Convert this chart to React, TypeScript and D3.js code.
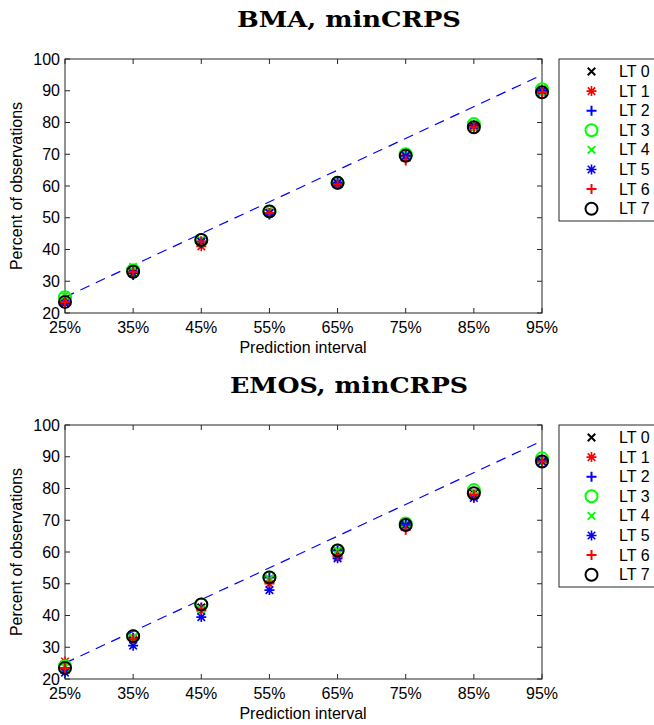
import React from "react";
import * as d3 from "d3";

const intervals = [25, 35, 45, 55, 65, 75, 85, 95];
const intervalLabels = ["25%", "35%", "45%", "55%", "65%", "75%", "85%", "95%"];
const yTicks = [20, 30, 40, 50, 60, 70, 80, 90, 100];
const seriesNames = ["LT 0", "LT 1", "LT 2", "LT 3", "LT 4", "LT 5", "LT 6", "LT 7"];
const seriesColors = ["#000000", "#ff0000", "#0000ff", "#00ff00", "#00ff00", "#0000ff", "#ff0000", "#000000"];
const seriesMarkers = ["x", "star", "plus", "circle", "x", "star", "plus", "circle"];

// BMA, minCRPS: rows = LT 0..7, columns = intervals
const bmaLT0 = [24, 33, 42.5, 51.5, 61, 69.5, 78.5, 90];
const bmaLT1 = [23.5, 32.5, 41, 51.5, 60.5, 69, 78.5, 89.5];
const bmaLT2 = [23, 32, 42, 51, 61, 69.5, 79, 90];
const bmaLT3 = [25, 33.5, 43, 52, 61, 70, 79.5, 90.5];
const bmaLT4 = [25.5, 34.5, 43, 52.5, 61.5, 70, 79.5, 90.5];
const bmaLT5 = [23, 32.5, 42.5, 51.5, 61, 69.5, 79, 90];
const bmaLT6 = [23.5, 33, 42.5, 51.5, 60.5, 68, 78.5, 89.5];
const bmaLT7 = [23.5, 33, 43, 52, 61, 69.5, 78.5, 89.5];

// EMOS, minCRPS
const emosLT0 = [24, 33, 42.5, 51.5, 60, 68.5, 78.5, 89];
const emosLT1 = [25.5, 32.5, 41.5, 50, 58.5, 68, 77.5, 88.5];
const emosLT2 = [23, 33, 42.5, 52, 60.5, 69, 78, 89];
const emosLT3 = [24, 33.5, 43.5, 52, 60.5, 69, 79.5, 89.5];
const emosLT4 = [24, 33, 42, 51.5, 60.5, 69, 79, 89];
const emosLT5 = [22, 30.5, 39.5, 48, 58, 68.5, 77, 88.5];
const emosLT6 = [23.5, 32.5, 42, 50.5, 59, 67, 78, 88.5];
const emosLT7 = [23.5, 33.5, 43.5, 52, 60.5, 68.5, 78.5, 88.5];

const bmaSeries = [bmaLT0, bmaLT1, bmaLT2, bmaLT3, bmaLT4, bmaLT5, bmaLT6, bmaLT7];
const emosSeries = [emosLT0, emosLT1, emosLT2, emosLT3, emosLT4, emosLT5, emosLT6, emosLT7];

const SANS = "'Liberation Sans', Arial, Helvetica, sans-serif";
const SERIF = "'DejaVu Serif', 'Liberation Serif', serif";

function Marker({ type, x, y, color, s }: { type: string; x: number; y: number; color: string; s: number }) {
  const sw = 2;
  if (type === "circle") {
    return <circle cx={x} cy={y} r={s + 1} fill="none" stroke={color} strokeWidth={sw} />;
  }
  if (type === "x") {
    const d = s * 0.75;
    return (
      <path d={`M${x - d},${y - d}L${x + d},${y + d}M${x - d},${y + d}L${x + d},${y - d}`} stroke={color} strokeWidth={sw} />
    );
  }
  if (type === "plus") {
    return <path d={`M${x - s},${y}L${x + s},${y}M${x},${y - s}L${x},${y + s}`} stroke={color} strokeWidth={sw} />;
  }
  const d = s * 0.75;
  return (
    <path
      d={`M${x - s},${y}L${x + s},${y}M${x},${y - s}L${x},${y + s}M${x - d},${y - d}L${x + d},${y + d}M${x - d},${y + d}L${x + d},${y - d}`}
      stroke={color}
      strokeWidth={1.6}
    />
  );
}

function Panel({ title, titleWidth, series, top }: { title: string; titleWidth: number; series: number[][]; top: number }) {
  const left = 65;
  const right = 542;
  const plotTop = top;
  const plotBottom = top + 254;
  const x = d3.scaleLinear().domain([25, 95]).range([left, right]);
  const y = d3.scaleLinear().domain([20, 100]).range([plotBottom, plotTop]);
  const tick = 5;
  const axisColor = "#262626";
  const legendTop = plotTop;
  const legendRowH = 19.6;
  const line = d3
    .line<number>()
    .x((d) => x(d))
    .y((d) => y(d));
  const diag = [intervals[0], intervals[intervals.length - 1]];
  return (
    <g>
      <text
        x={349}
        y={top - 32}
        textAnchor="middle"
        fontFamily={SERIF}
        fontWeight="bold"
        fontSize={22}
        textLength={titleWidth}
        lengthAdjust="spacingAndGlyphs"
      >
        {title}
      </text>
      <rect x={left} y={plotTop} width={right - left} height={plotBottom - plotTop} fill="#fff" stroke={axisColor} strokeWidth={1} />
      {intervals.map((v, i) => (
        <g key={"xt" + i}>
          <line x1={x(v)} x2={x(v)} y1={plotBottom} y2={plotBottom - tick} stroke={axisColor} />
          <line x1={x(v)} x2={x(v)} y1={plotTop} y2={plotTop + tick} stroke={axisColor} />
          <text x={x(v)} y={plotBottom + 20} textAnchor="middle" fontFamily={SANS} fontSize={16}>
            {intervalLabels[i]}
          </text>
        </g>
      ))}
      {yTicks.map((v, i) => (
        <g key={"yt" + i}>
          <line x1={left} x2={left + tick} y1={y(v)} y2={y(v)} stroke={axisColor} />
          <line x1={right} x2={right - tick} y1={y(v)} y2={y(v)} stroke={axisColor} />
          <text x={left - 5} y={y(v) + 5.5} textAnchor="end" fontFamily={SANS} fontSize={16}>
            {v}
          </text>
        </g>
      ))}
      <text x={303} y={plotBottom + 40} textAnchor="middle" fontFamily={SANS} fontSize={16}>
        Prediction interval
      </text>
      <text
        transform={`translate(${22},${(plotTop + plotBottom) / 2}) rotate(-90)`}
        textAnchor="middle"
        fontFamily={SANS}
        fontSize={16}
      >
        Percent of observations
      </text>
      <path d={line(diag) || ""} fill="none" stroke="#0000ff" strokeWidth={1.2} strokeDasharray="10,7" />
      {series.map((vals, si) =>
        vals.map((v, i) => (
          <Marker key={si + "-" + i} type={seriesMarkers[si]} x={x(intervals[i])} y={y(v)} color={seriesColors[si]} s={5} />
        ))
      )}
      <rect x={559} y={legendTop} width={130} height={162} fill="#fff" stroke={axisColor} strokeWidth={1} />
      {seriesNames.map((n, si) => (
        <g key={"lg" + si}>
          <Marker type={seriesMarkers[si]} x={591.5} y={legendTop + 12.5 + si * legendRowH} color={seriesColors[si]} s={5} />
          <text x={619} y={legendTop + 12.5 + si * legendRowH + 5.5} fontFamily={SANS} fontSize={16}>
            {n}
          </text>
        </g>
      ))}
    </g>
  );
}

export default function App() {
  return (
    <svg width={654} height={725} style={{ position: "absolute", left: 0, top: 0 }} xmlns="http://www.w3.org/2000/svg">
      <rect width={654} height={725} fill="#fff" />
      <Panel title="BMA, minCRPS" titleWidth={224} series={bmaSeries} top={59} />
      <Panel title="EMOS, minCRPS" titleWidth={238} series={emosSeries} top={425} />
    </svg>
  );
}
